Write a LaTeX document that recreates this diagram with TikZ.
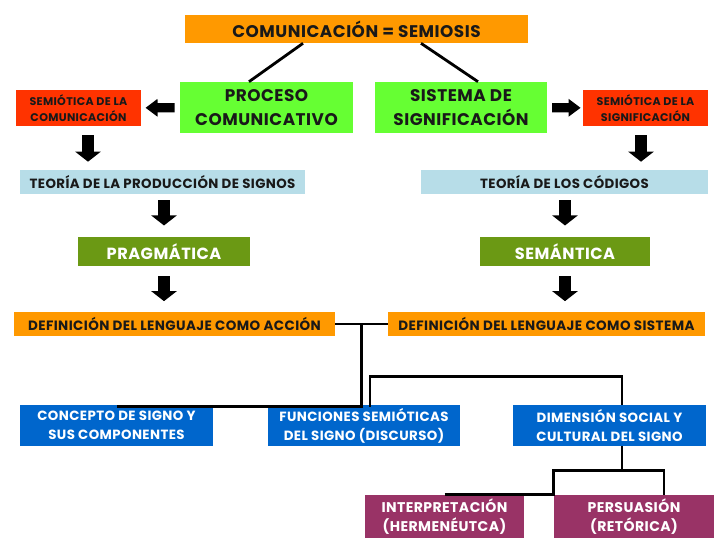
\documentclass[tikz,border=0pt]{standalone}
\usepackage{fontspec}
\setmainfont{Poppins}[LetterSpace=3]
\usepackage{tikz}
\usetikzlibrary{arrows.meta, calc}
\definecolor{semorange}{RGB}{255,153,0}
\definecolor{semlime}{RGB}{102,255,51}
\definecolor{semred}{RGB}{255,51,0}
\definecolor{semsky}{RGB}{183,221,232}
\definecolor{semolive}{RGB}{107,153,20}
\definecolor{semblue}{RGB}{0,102,204}
\definecolor{semplum}{RGB}{153,51,102}
\definecolor{semink}{RGB}{25,25,25}

\begin{document}
\begin{tikzpicture}[x=0.025cm, y=-0.025cm,
    box/.style={rectangle, inner sep=0pt, align=center, text=semink},
    topbox/.style={box, fill=semorange, minimum width=8.575cm, minimum height=0.7cm,
                   font=\fontsize{12}{14}\selectfont\bfseries},
    limebox/.style={box, fill=semlime, minimum width=4.3cm, minimum height=1.275cm,
                    font=\fontsize{12}{17}\selectfont\bfseries},
    redbox/.style={box, fill=semred, minimum width=3.125cm, minimum height=0.9cm,
                   font=\fontsize{7.9}{11.3}\selectfont\bfseries},
    skybox/.style={box, fill=semsky, minimum height=0.6cm,
                   font=\fontsize{9.5}{11}\selectfont\bfseries},
    olivebox/.style={box, fill=semolive, text=white, minimum width=4.3cm, minimum height=0.725cm,
                     font=\fontsize{11.5}{14}\selectfont\bfseries},
    defbox/.style={box, fill=semorange, minimum height=0.6cm,
                   font=\fontsize{9.6}{11}\selectfont\bfseries},
    bluebox/.style={box, fill=semblue, text=white, minimum width=4.825cm, minimum height=1.025cm,
                    font=\fontsize{9.5}{13.5}\selectfont\bfseries},
    plumbox/.style={box, fill=semplum, text=white, minimum width=4cm, minimum height=1.075cm,
                    font=\fontsize{10}{13}\selectfont\bfseries},
    line/.style={draw=black, line width=2pt},
    darr/.style={-{Triangle[width=0.625cm, length=0.25cm]}, line width=0.3cm, black},
    harr/.style={-{Triangle[width=0.425cm, length=0.3cm]}, line width=0.23cm, black}]
    \fill[white] (0,0) rectangle (728,546);
    \useasboundingbox (0,0) rectangle (728,546);
    % top level
    \node[topbox] (top) at (356.5,29) {COMUNICACIÓN = SEMIOSIS};
    \node[limebox] (proc) at (266.5,107.5) {PROCESO\\COMUNICATIVO};
    \node[limebox] (sist) at (461,107.5) {SISTEMA DE\\SIGNIFICACIÓN};
    \node[redbox] (semcom) at (78.5,108) {SEMIÓTICA DE LA\\COMUNICACIÓN};
    \node[redbox] (semsig) at (645.5,108) {SEMIÓTICA DE LA\\SIGNIFICACIÓN};
    \draw[line] ($(top.south)+(-53.5,0)$) -- ($(proc.north)+(-17.5,0)$);
    \draw[line] ($(top.south)+(64.5,0)$) -- ($(sist.north)+(17,0)$);
    \draw[harr, shorten <=4pt, shorten >=3pt] (proc) -- (semcom);
    \draw[harr, shorten <=3.5pt, shorten >=1.5pt] (sist) -- (semsig);
    % two columns
    \node[skybox, minimum width=7.125cm] (teoprod) at (162.5,182) {TEORÍA DE LA PRODUCCIÓN DE SIGNOS};
    \node[skybox, minimum width=7.175cm] (teocod) at (564.5,182) {TEORÍA DE LOS CÓDIGOS};
    \node[olivebox] (prag) at (164,251.5) {PRAGMÁTICA};
    \node[olivebox, minimum width=4.25cm] (sem) at (565,251.5) {SEMÁNTICA};
    \node[defbox, minimum width=8.025cm] (defacc) at (174.5,324) {DEFINICIÓN DEL LENGUAJE COMO ACCIÓN};
    \node[defbox, minimum width=7.925cm] (defsis) at (546.5,324) {DEFINICIÓN DEL LENGUAJE COMO SISTEMA};
    \coordinate (comfoot) at ($(semcom.south)+(9.5,0)$);
    \coordinate (sigfoot) at ($(semsig.south)+(-4.5,0)$);
    \draw[darr, shorten <=6.4pt, shorten >=5.7pt] (comfoot) -- (comfoot |- teoprod.north);
    \draw[darr, shorten <=6.4pt, shorten >=5.7pt] (sigfoot) -- (sigfoot |- teocod.north);
    \draw[darr, shorten <=4.3pt, shorten >=8pt] (teoprod.south -| prag) -- (prag.north);
    \draw[darr, shorten <=4.3pt, shorten >=8pt] (teocod.south -| sem) -- (sem.north);
    \draw[darr, shorten <=7pt, shorten >=7.5pt] (prag.south) -- (prag.south |- defacc.north);
    \draw[darr, shorten <=7pt, shorten >=7.5pt] (sem.south) -- (sem.south |- defsis.north);
    % lower tree
    \node[bluebox] (concepto) at (116.5,425.5) {CONCEPTO DE SIGNO Y\\SUS COMPONENTES};
    \node[bluebox, minimum width=4.8cm] (funciones) at (364,425.5) {FUNCIONES SEMIÓTICAS\\DEL SIGNO (DISCURSO)};
    \node[bluebox] (dimension) at (609.5,425.5) {DIMENSIÓN SOCIAL Y\\CULTURAL DEL SIGNO};
    \node[plumbox, minimum width=3.975cm] (interp) at (444.5,516.5) {INTERPRETACIÓN\\(HERMENÉUTCA)};
    \node[plumbox] (persu) at (634,516.5) {PERSUASIÓN\\(RETÓRICA)};
    \coordinate (defmid) at ($(defacc.east)!0.5!(defsis.west)$);
    \coordinate (funtop) at ($(funciones.north)+(6,2)$);
    \coordinate (dimtop) at ($(dimension.north)+(12.5,0)$);
    \draw[line] (defacc.east) -- (defsis.west);
    \draw[line] (defmid) -- (defmid |- funtop) -- ($(concepto.north)+(0,2)$);
    \draw[line] (funtop) -- ++(0,-30) -| (dimtop);
    \draw[line] ($(dimension.south)+(12.5,0)$) -- ++(0,24) coordinate (fork);
    \draw[line] (interp.north) -- (persu.north west) |- (fork) -| ($(persu.north)+(30,0)$);
\end{tikzpicture}
\end{document}
